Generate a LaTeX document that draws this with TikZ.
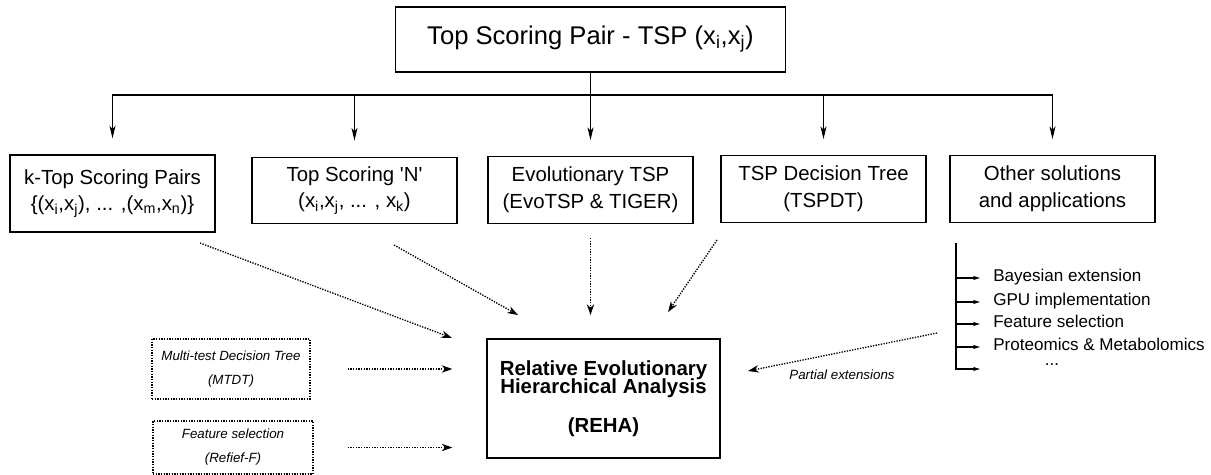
\documentclass[tikz,border=0pt]{standalone}
\usepackage{fontspec}
\setmainfont{Liberation Sans}[Ligatures=TeXOff]
\usetikzlibrary{arrows.meta}
\newcommand\rehafont{\fontsize{15.3}{13.5}\selectfont\bfseries\lineskiplimit=-10pt\relax}

\begin{document}
\begin{tikzpicture}[x=0.75pt, y=-0.75pt,
    box/.style={draw, line width=0.9pt, align=center, inner sep=0pt, minimum width=153.75pt, minimum height=50pt, font=\fontsize{15.3}{20}\selectfont},
    side/.style={draw, dash pattern=on 1pt off 1pt, line width=0.9pt, align=center, inner sep=0pt, font=\fontsize{10}{18}\selectfont\itshape},
    tree/.style={-{Stealth[length=9.5pt,width=4.5pt,inset=2.5pt]}, line width=0.8pt},
    feed/.style={-{Stealth[length=8pt,width=5.5pt,inset=2.5pt]}, dash pattern=on 1pt off 1pt, line width=1pt},
    small/.style={-{Stealth[length=5pt,width=3pt,inset=1pt]}, line width=0.9pt},
    item/.style={anchor=west, inner ysep=0pt, inner xsep=9.75pt, text height=0.72em, text depth=0.2em, font=\fontsize{12.8}{14}\selectfont}]
    \useasboundingbox (0,0) rectangle (1211,475);

    \node[box, minimum width=292.5pt, minimum height=48.75pt, font=\fontsize{19.2}{22}\selectfont] (tsp) at (590.5,39.5) {Top Scoring Pair - TSP (x\textsubscript{i},x\textsubscript{j})};
    \node[box, minimum height=57.75pt] (ktsp) at (112.5,193.5) {k-Top Scoring Pairs\\\{(x\textsubscript{i},x\textsubscript{j}), ... ,(x\textsubscript{m},x\textsubscript{n})\}};
    \node[box] (tsn) at (354.5,190.5) {Top Scoring 'N'\\(x\textsubscript{i},x\textsubscript{j}, ... , x\textsubscript{k})};
    \node[box] (evotsp) at (590.5,190) {Evolutionary TSP\\(EvoTSP \& TIGER)};
    \node[box] (tspdt) at (823.5,189) {TSP Decision Tree\\(TSPDT)};
    \node[box] (other) at (1052.5,189) {Other solutions\\and applications};
    \node[draw, line width=0.9pt, align=center, minimum width=174.75pt, minimum height=89.25pt, font=\rehafont] (reha) at (603.5,398.5) {Relative Evolutionary\\Hierarchical Analysis\\[15.75pt](REHA)};
    \node[side, minimum width=118.5pt, minimum height=45pt] (mtdt) at (231,369) {Multi-test Decision Tree\\(MTDT)};
    \node[side, minimum width=120pt, minimum height=39.75pt] (fsel) at (233,447.5) {Feature selection\\(Refief-F)};

    \coordinate (bar) at (0,95);
    \draw[tree] (tsp.south) -- (tsp.south |- bar) -| ([yshift=12pt]ktsp.north);
    \draw[tree] (tsp.south |- bar) -| ([yshift=12pt]other.north);
    \draw[tree] (tsp.south) -- ([yshift=12pt]evotsp.north);
    \draw[tree] (tsn.north |- bar) -- ([yshift=12pt]tsn.north);
    \draw[tree] (tspdt.north |- bar) -- ([yshift=12pt]tspdt.north);

    \coordinate (k0) at (200,243);
    \coordinate (k1) at (452,338);
    \coordinate (n0) at (394,245);
    \coordinate (n1) at (518,315);
    \coordinate (e0) at (590.5,238);
    \coordinate (e1) at (590.5,315);
    \coordinate (d0) at (717,240);
    \coordinate (d1) at (668,312);
    \coordinate (p0) at (937,333);
    \coordinate (p1) at (748,371);
    \draw[feed] (k0) -- (k1);
    \draw[feed] (n0) -- (n1);
    \draw[feed] (e0) -- (e1);
    \draw[feed] (d0) -- (d1);
    \draw[feed] (p0) -- (p1);
    \node[font=\fontsize{10}{12}\selectfont\itshape] (part) at (842,375) {Partial extensions};
    \draw[feed] ([xshift=27.75pt]mtdt.east) -- ([xshift=-25.5pt]reha.west |- mtdt.east);
    \draw[feed] ([xshift=25.5pt]fsel.east) -- ([xshift=-25.5pt]reha.west |- fsel.east);

    \coordinate (lst) at (956,243);
    \foreach \t/\y [count=\i] in {Bayesian extension/278, GPU implementation/302, Feature selection/324, Proteomics \& Metabolomics/347} {
      \node[item] (it\i) at (980,\y) {\t};
      \draw[small] (lst |- it\i.west) -- (it\i.west);
    }
    \coordinate (it5) at (980,369);
    \draw[small] (lst) |- (it5);
    \node[font=\fontsize{12.8}{14}\selectfont] (dots) at (1052,365) {...};
\end{tikzpicture}
\end{document}
